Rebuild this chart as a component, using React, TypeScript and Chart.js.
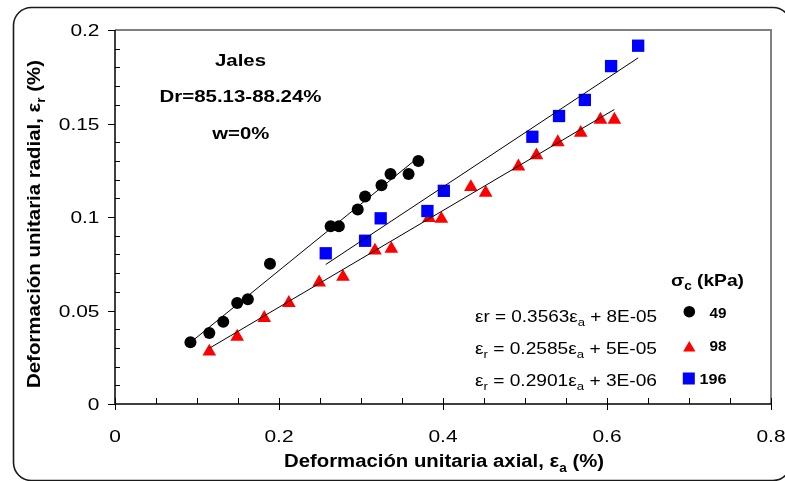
import React, { useEffect, useRef } from "react";
import { Chart, registerables } from "chart.js";
Chart.register(...registerables);

// ---- axis ticks ----
const xTickValues = [0, 0.2, 0.4, 0.6, 0.8];
const xTickLabels = ["0", "0.2", "0.4", "0.6", "0.8"];
const yTickValues = [0, 0.05, 0.1, 0.15, 0.2];
const yTickLabels = ["0", "0.05", "0.1", "0.15", "0.2"];
const xMinorValues = [0.05, 0.1, 0.15, 0.25, 0.3, 0.35, 0.45, 0.5, 0.55, 0.65, 0.7, 0.75];
const yMinorValues = [0.01, 0.02, 0.03, 0.04, 0.06, 0.07, 0.08, 0.09, 0.11, 0.12, 0.13, 0.14, 0.16, 0.17, 0.18, 0.19];

// ---- series: sigma_c = 49 kPa ----
const s49X = [0.092, 0.115, 0.132, 0.149, 0.162, 0.189, 0.263, 0.273, 0.296, 0.305, 0.325, 0.336, 0.358, 0.370];
const s49Y = [0.033, 0.038, 0.044, 0.054, 0.056, 0.075, 0.095, 0.095, 0.104, 0.111, 0.117, 0.123, 0.123, 0.130];
// ---- series: sigma_c = 98 kPa ----
const s98X = [0.115, 0.149, 0.182, 0.212, 0.249, 0.278, 0.317, 0.337, 0.383, 0.398, 0.434, 0.452, 0.492, 0.514, 0.540, 0.568, 0.592, 0.609];
const s98Y = [0.028, 0.036, 0.046, 0.054, 0.065, 0.068, 0.082, 0.083, 0.0995, 0.099, 0.116, 0.113, 0.127, 0.133, 0.140, 0.145, 0.152, 0.152];
// ---- series: sigma_c = 196 kPa ----
const s196X = [0.257, 0.305, 0.324, 0.381, 0.401, 0.509, 0.5415, 0.573, 0.605, 0.638];
const s196Y = [0.0806, 0.0873, 0.0993, 0.1032, 0.114, 0.1429, 0.154, 0.1626, 0.1807, 0.1916];

// ---- trend line end points ----
const trend49X = [0.092, 0.370];
const trend49Y = [0.0329, 0.1319];
const trend98X = [0.115, 0.609];
const trend98Y = [0.0298, 0.1575];
const trend196X = [0.257, 0.638];
const trend196Y = [0.0746, 0.1851];

const seriesLabels = ["49", "98", "196"];
const seriesColors = ["#000000", "#FF0000", "#0000FF"];

type Part = { t: string; sub?: boolean };

const equations: Part[][] = [
  [{ t: "\u03b5r = 0.3563\u03b5" }, { t: "a", sub: true }, { t: " + 8E-05" }],
  [{ t: "\u03b5" }, { t: "r", sub: true }, { t: " = 0.2585\u03b5" }, { t: "a", sub: true }, { t: " + 5E-05" }],
  [{ t: "\u03b5" }, { t: "r", sub: true }, { t: " = 0.2901\u03b5" }, { t: "a", sub: true }, { t: " + 3E-06" }],
];
const noteLines = ["Jales", "Dr=85.13-88.24%", "w=0%"];
const xTitle: Part[] = [{ t: "Deformaci\u00f3n unitaria axial, \u03b5" }, { t: "a", sub: true }, { t: " (%)" }];
const yTitle: Part[] = [{ t: "Deformaci\u00f3n unitaria radial, \u03b5" }, { t: "r", sub: true }, { t: " (%)" }];
const legendTitle: Part[] = [{ t: "\u03c3" }, { t: "c", sub: true }, { t: " (kPa)" }];

const FAMILY = "'Liberation Sans', Arial, Helvetica, sans-serif";

function drawRich(
  ctx: CanvasRenderingContext2D,
  parts: Part[],
  x: number,
  baseline: number,
  o: { size: number; bold?: boolean; align: "left" | "center" | "right"; width?: number; sx?: number; color?: string }
) {
  const fontFor = (p: Part) =>
    `${o.bold ? "bold " : ""}${p.sub ? Math.round(o.size * 0.68) : o.size}px ${FAMILY}`;
  const ws: number[] = [];
  let total = 0;
  for (const p of parts) {
    ctx.font = fontFor(p);
    const w = ctx.measureText(p.t).width;
    ws.push(w);
    total += w;
  }
  const sx = o.width ? o.width / total : o.sx ?? 1.2;
  const dw = total * sx;
  const x0 = o.align === "left" ? x : o.align === "center" ? x - dw / 2 : x - dw;
  ctx.save();
  ctx.translate(x0, baseline);
  ctx.scale(sx, 1);
  ctx.fillStyle = o.color || "#000";
  ctx.textAlign = "left";
  ctx.textBaseline = "alphabetic";
  let cx = 0;
  parts.forEach((p, i) => {
    ctx.font = fontFor(p);
    ctx.fillText(p.t, cx, p.sub ? o.size * 0.25 : 0);
    cx += ws[i];
  });
  ctx.restore();
}

const decorPlugin = {
  id: "decor",
  beforeDraw(chart: any) {
    const ctx: CanvasRenderingContext2D = chart.ctx;
    ctx.save();
    ctx.fillStyle = "#fff";
    ctx.fillRect(0, 0, chart.width, chart.height);
    // outer rounded frame
    const l = 13.5, t = 7.5, r = 791, b = 480.5, rad = 18;
    ctx.beginPath();
    ctx.moveTo(l + rad, t);
    ctx.lineTo(r - rad, t);
    ctx.arcTo(r, t, r, t + rad, rad);
    ctx.lineTo(r, b - rad);
    ctx.arcTo(r, b, r - rad, b, rad);
    ctx.lineTo(l + rad, b);
    ctx.arcTo(l, b, l, b - rad, rad);
    ctx.lineTo(l, t + rad);
    ctx.arcTo(l, t, l + rad, t, rad);
    ctx.closePath();
    ctx.strokeStyle = "#1a1a1a";
    ctx.lineWidth = 1.6;
    ctx.stroke();
    ctx.restore();
  },
  beforeDatasetsDraw(chart: any) {
    const ctx: CanvasRenderingContext2D = chart.ctx;
    const { left, right, top, bottom } = chart.chartArea;
    const xs = chart.scales.x;
    const ys = chart.scales.y;
    ctx.save();
    // top & right border (gray)
    ctx.strokeStyle = "#808080";
    ctx.lineWidth = 2;
    ctx.beginPath();
    ctx.moveTo(left, top);
    ctx.lineTo(right, top);
    ctx.lineTo(right, bottom);
    ctx.stroke();
    // axes (black)
    ctx.strokeStyle = "#000";
    ctx.lineWidth = 1.5;
    ctx.beginPath();
    ctx.moveTo(left, top);
    ctx.lineTo(left, bottom);
    ctx.lineTo(right, bottom);
    ctx.stroke();
    ctx.lineWidth = 1;
    ctx.beginPath();
    // y major ticks (outside)
    ys.ticks.forEach((tk: any) => {
      const py = Math.round(ys.getPixelForValue(tk.value)) + 0.5;
      ctx.moveTo(left - 7, py);
      ctx.lineTo(left, py);
    });
    // y minor ticks (inside)
    yMinorValues.forEach((v) => {
      const py = Math.round(ys.getPixelForValue(v)) + 0.5;
      ctx.moveTo(left, py);
      ctx.lineTo(left + 5, py);
    });
    // x major ticks (cross)
    xs.ticks.forEach((tk: any) => {
      const px = Math.round(xs.getPixelForValue(tk.value)) + 0.5;
      ctx.moveTo(px, bottom - 6);
      ctx.lineTo(px, bottom + 6);
    });
    // x minor ticks (inside)
    xMinorValues.forEach((v) => {
      const px = Math.round(xs.getPixelForValue(v)) + 0.5;
      ctx.moveTo(px, bottom - 6);
      ctx.lineTo(px, bottom);
    });
    ctx.stroke();
    ctx.restore();
  },
  afterDraw(chart: any) {
    const ctx: CanvasRenderingContext2D = chart.ctx;
    const { left, right, bottom } = chart.chartArea;
    const xs = chart.scales.x;
    const ys = chart.scales.y;
    // tick labels
    ys.ticks.forEach((tk: any, i: number) => {
      const py = ys.getPixelForValue(tk.value);
      drawRich(ctx, [{ t: yTickLabels[i] }], left - 15.5, py + 6.3, { size: 17, align: "right", sx: 1.23 });
    });
    xs.ticks.forEach((tk: any, i: number) => {
      const px = xs.getPixelForValue(tk.value);
      drawRich(ctx, [{ t: xTickLabels[i] }], px, bottom + 37.7, { size: 17, align: "center", sx: 1.23 });
    });
    // axis titles
    drawRich(ctx, xTitle, (left + right) / 2 + 1, 467.3, { size: 18, bold: true, align: "center", width: 320 });
    ctx.save();
    ctx.translate(40, 224);
    ctx.rotate(-Math.PI / 2);
    drawRich(ctx, yTitle, 0, 0, { size: 18, bold: true, align: "center", width: 328 });
    ctx.restore();
    // notes
    drawRich(ctx, [{ t: noteLines[0] }], 240.5, 66, { size: 17, bold: true, align: "center", width: 51 });
    drawRich(ctx, [{ t: noteLines[1] }], 240.5, 101.7, { size: 17, bold: true, align: "center", width: 162 });
    drawRich(ctx, [{ t: noteLines[2] }], 240.8, 139, { size: 17, bold: true, align: "center", width: 57 });
    // legend title
    drawRich(ctx, legendTitle, 671, 286, { size: 17, bold: true, align: "left", width: 73 });
    // equations
    const eqBase = [322, 354, 386];
    equations.forEach((eq, i) => {
      drawRich(ctx, eq, 657, eqBase[i], { size: 16, align: "right", width: 182 });
    });
    // legend entries
    const legBase = [317.7, 351, 384.3];
    const legWidths = [17, 17, 27];
    seriesLabels.forEach((lab, i) => {
      drawRich(ctx, [{ t: lab }], 726.5, legBase[i], { size: 15.5, bold: true, align: "right", width: legWidths[i] });
    });
    ctx.save();
    ctx.fillStyle = seriesColors[0];
    ctx.beginPath();
    ctx.arc(689.3, 311.7, 5.8, 0, Math.PI * 2);
    ctx.fill();
    ctx.fillStyle = seriesColors[1];
    ctx.beginPath();
    const tr = 7.1, tcx = 689.3, tcy = 348;
    ctx.moveTo(tcx, tcy - tr);
    ctx.lineTo(tcx + tr * Math.sin((2 * Math.PI) / 3), tcy + tr / 2);
    ctx.lineTo(tcx - tr * Math.sin((2 * Math.PI) / 3), tcy + tr / 2);
    ctx.closePath();
    ctx.fill();
    ctx.fillStyle = seriesColors[2];
    ctx.fillRect(682.8, 372.5, 12, 12);
    ctx.restore();
  },
};

const toPts = (xs: number[], ys: number[]) => xs.map((x, i) => ({ x, y: ys[i] }));

export default function App() {
  const ref = useRef<HTMLCanvasElement | null>(null);
  useEffect(() => {
    if (!ref.current) return;
    const lineDs = (xs: number[], ys: number[]) => ({
      data: toPts(xs, ys),
      showLine: true,
      borderColor: "#000",
      borderWidth: 1,
      pointRadius: 0,
      fill: false,
    });
    const chart = new Chart(ref.current, {
      type: "scatter",
      data: {
        datasets: [
          lineDs(trend49X, trend49Y),
          lineDs(trend98X, trend98Y),
          lineDs(trend196X, trend196Y),
          {
            data: toPts(s196X, s196Y),
            pointStyle: "rect",
            pointRadius: 8.7,
            backgroundColor: seriesColors[2],
            borderColor: seriesColors[2],
            borderWidth: 0,
          },
          {
            data: toPts(s98X, s98Y),
            pointStyle: "triangle",
            pointRadius: 7.9,
            backgroundColor: seriesColors[1],
            borderColor: seriesColors[1],
            borderWidth: 0,
          },
          {
            data: toPts(s49X, s49Y),
            pointStyle: "circle",
            pointRadius: 6,
            backgroundColor: seriesColors[0],
            borderColor: seriesColors[0],
            borderWidth: 0,
          },
        ] as any,
      },
      options: {
        responsive: false,
        animation: false,
        layout: { padding: { left: 0, top: 30, right: 14, bottom: 0 } },
        plugins: { legend: { display: false }, tooltip: { enabled: false } },
        scales: {
          x: {
            type: "linear",
            min: 0,
            max: 0.8,
            afterBuildTicks: (s: any) => {
              s.ticks = xTickValues.map((v) => ({ value: v }));
            },
            afterFit: (s: any) => {
              s.height = 77;
            },
            ticks: { display: false },
            grid: { display: false },
            border: { display: false },
          },
          y: {
            type: "linear",
            min: 0,
            max: 0.2,
            afterBuildTicks: (s: any) => {
              s.ticks = yTickValues.map((v) => ({ value: v }));
            },
            afterFit: (s: any) => {
              s.width = 115;
            },
            ticks: { display: false },
            grid: { display: false },
            border: { display: false },
          },
        },
      } as any,
      plugins: [decorPlugin],
    });
    return () => chart.destroy();
  }, []);
  return (
    <div style={{ position: "fixed", left: 0, top: 0, width: 785, height: 481, background: "#fff" }}>
      <canvas ref={ref} width={785} height={481} style={{ display: "block" }} />
    </div>
  );
}
